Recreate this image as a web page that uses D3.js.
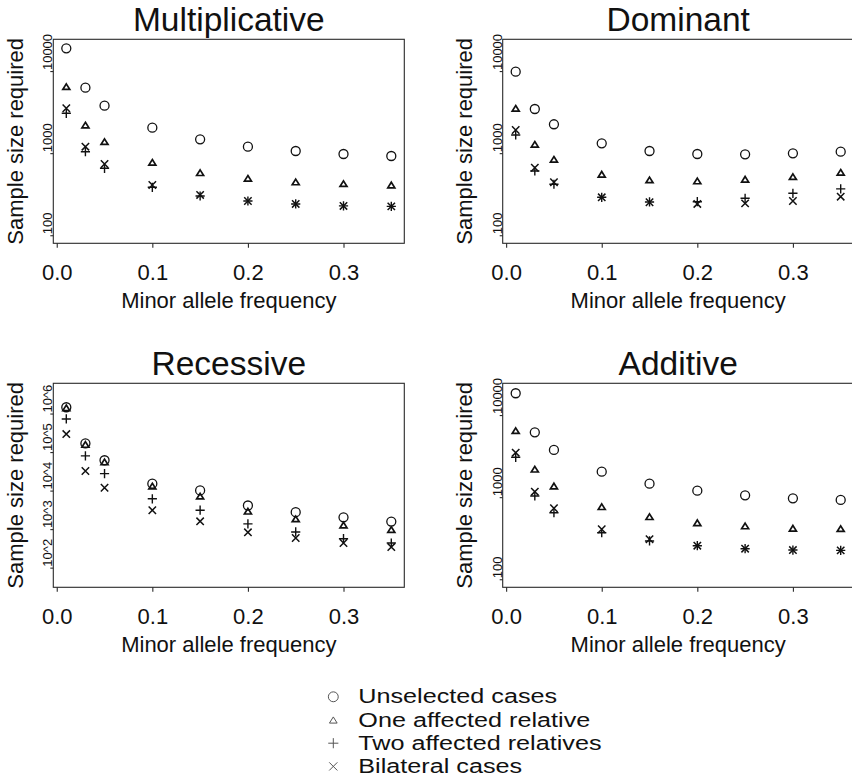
<!DOCTYPE html>
<html>
<head>
<meta charset="utf-8">
<script src="https://cdn.jsdelivr.net/npm/d3@7"></script>
<style>
  html, body { margin: 0; padding: 0; background: #fff; }
  svg { display: block; font-family: "Liberation Sans", Arial, Helvetica, sans-serif; }
</style>
</head>
<body>
<svg id="chart" width="852" height="783"></svg>
<script>
// ---------------- DATA ----------------
const mafs = [0.01, 0.03, 0.05, 0.1, 0.15, 0.2, 0.25, 0.3, 0.35];
const seriesNames = ["Unselected cases", "One affected relative", "Two affected relatives", "Bilateral cases"];
const panelTitles = ["Multiplicative", "Dominant", "Recessive", "Additive"];

const multUnselected = [19200, 6370, 3840, 2070, 1496, 1217, 1077, 990, 936];
const multOne        = [6550, 2230, 1400, 785, 586, 501, 452, 431, 415];
const multTwo        = [3100, 1057, 663, 389, 305, 265, 244, 231, 228];
const multBilateral  = [3570, 1217, 748, 415, 314, 265, 244, 231, 228];

const domUnselected  = [9980, 3500, 2280, 1337, 1077, 990, 982, 1009, 1057];
const domOne         = [3570, 1300, 853, 561, 479, 465, 488, 525, 593];
const domTwo         = [1687, 615, 424, 294, 258, 260, 286, 329, 372];
const domBilateral   = [1940, 674, 448, 294, 256, 244, 248, 265, 299];

const recUnselected  = [1500000, 172600, 63200, 15600, 10400, 4230, 2830, 2090, 1620];
const recOne         = [1450000, 162500, 57100, 13500, 7400, 3010, 1900, 1320, 1000];
const recTwo         = [745000, 82000, 28400, 6320, 3190, 1410, 870, 582, 449];
const recBilateral   = [302000, 33300, 12200, 3190, 1640, 850, 607, 449, 353];

const addUnselected  = [18700, 6250, 3810, 2070, 1479, 1216, 1069, 982, 938];
const addOne         = [6550, 2220, 1387, 776, 586, 495, 452, 424, 419];
const addTwo         = [3100, 1047, 656, 374, 297, 260, 239, 230, 228];
const addBilateral   = [3530, 1183, 742, 412, 311, 260, 239, 230, 228];

const xTicks = [0, 0.1, 0.2, 0.3];
const xTickLabels = ["0.0", "0.1", "0.2", "0.3"];
const yTicksStd = [100, 1000, 10000];
const yTickLabelsStd = ["100", "1000", "10000"];
const yTicksRec = [1e2, 1e3, 1e4, 1e5, 1e6];
const yTickLabelsRec = ["10^2", "10^3", "10^4", "10^5", "10^6"];
const yLimStd = [100, 20000];
const yLimRec = [50, 4e6];

// ---------------- LAYOUT ----------------
const svg = d3.select("#chart");
const W = 351, H = 204;
const panels = [
  {title: panelTitles[0], x0: 53.3, y0: 39.3, series: [multUnselected, multOne, multTwo, multBilateral], ticks: yTicksStd, labels: yTickLabelsStd, lim: yLimStd, fs: 13},
  {title: panelTitles[1], x0: 502.7, y0: 39.3, series: [domUnselected, domOne, domTwo, domBilateral], ticks: yTicksStd, labels: yTickLabelsStd, lim: yLimStd, fs: 13},
  {title: panelTitles[2], x0: 53.3, y0: 383.3, series: [recUnselected, recOne, recTwo, recBilateral], ticks: yTicksRec, labels: yTickLabelsRec, lim: yLimRec, fs: 13},
  {title: panelTitles[3], x0: 502.7, y0: 383.3, series: [addUnselected, addOne, addTwo, addBilateral], ticks: yTicksStd, labels: yTickLabelsStd, lim: yLimStd, fs: 13}
];

const ink = "#111";
const lineCol = "#2a2a2a";

// marker path generators (centered at 0,0)
function markerPath(k, s) {
  s = s || 1;
  if (k === 0) { const r = 4.5 * s; return `M${r},0A${r},${r} 0 1,1 ${-r},0A${r},${r} 0 1,1 ${r},0Z`; }
  if (k === 1) { const w = 3.5 * s, h = 2.8 * s; return `M0,${-h}L${w},${h}L${-w},${h}Z`; }
  if (k === 2) { const a = 4.6 * s; return `M${-a},0L${a},0M0,${-a}L0,${a}`; }
  const b = 3.7 * s; return `M${-b},${-b}L${b},${b}M${-b},${b}L${b},${-b}`;
}
const markerStroke = [1.3, 1.7, 1.4, 1.5];

// R-like 4% axis extension
function extend(lo, hi) { const d = (hi - lo) * 0.04; return [lo - d, hi + d]; }
const xDom = extend(d3.min(mafs), d3.max(mafs));

panels.forEach(p => {
  const g = svg.append("g");
  const x = d3.scaleLinear().domain(xDom).range([p.x0, p.x0 + W]);
  const ld = extend(Math.log10(p.lim[0]), Math.log10(p.lim[1]));
  const y = d3.scaleLog().domain([Math.pow(10, ld[0]), Math.pow(10, ld[1])]).range([p.y0 + H, p.y0]);

  // box
  g.append("rect").attr("x", p.x0).attr("y", p.y0).attr("width", W).attr("height", H)
    .attr("fill", "none").attr("stroke", lineCol).attr("stroke-width", 1.1);

  // x axis via d3 axis
  const xa = d3.axisBottom(x).tickValues(xTicks).tickFormat((d, i) => xTickLabels[i])
    .tickSizeInner(4.5).tickSizeOuter(0).tickPadding(14);
  const xg = g.append("g").attr("transform", `translate(0,${p.y0 + H})`).call(xa);
  xg.select(".domain").remove();
  xg.selectAll(".tick line").attr("stroke", lineCol).attr("stroke-width", 1.1);
  xg.selectAll(".tick text").attr("fill", ink).attr("font-size", 22)
    .attr("font-family", "Liberation Sans, Arial, sans-serif")
    .attr("dy", null).attr("y", 36.7);

  // y ticks
  const yg = g.append("g");
  p.ticks.forEach((t, i) => {
    const ty = y(t);
    yg.append("line").attr("x1", p.x0 - 3).attr("x2", p.x0).attr("y1", ty).attr("y2", ty)
      .attr("stroke", lineCol).attr("stroke-width", 1.1);
    yg.append("text").attr("transform", `translate(${p.x0 - 0.9},${ty - 1.5}) rotate(-90)`)
      .attr("text-anchor", "start").attr("font-size", p.fs).attr("fill", ink).text(p.labels[i]);
  });

  // titles
  g.append("text").attr("x", p.x0 + W / 2).attr("y", p.y0 - 8.6).attr("text-anchor", "middle")
    .attr("font-size", 33.5).attr("fill", ink).text(p.title);
  g.append("text").attr("x", p.x0 + W / 2).attr("y", p.y0 + H + 65).attr("text-anchor", "middle")
    .attr("font-size", 22).attr("fill", ink).text("Minor allele frequency");
  g.append("text").attr("transform", `translate(${p.x0 - 30.8},${p.y0 + H / 2}) rotate(-90)`)
    .attr("text-anchor", "middle").attr("font-size", 22).attr("fill", ink).text("Sample size required");

  // points
  p.series.forEach((vals, k) => {
    g.append("g").selectAll("path").data(vals).join("path")
      .attr("transform", (v, i) => `translate(${x(mafs[i])},${y(v)})`)
      .attr("d", markerPath(k))
      .attr("fill", "none").attr("stroke", ink).attr("stroke-width", markerStroke[k]);
  });
});

// ---------------- LEGEND ----------------
const leg = svg.append("g");
const legY0 = 703.3, legDy = 23.2;
seriesNames.forEach((name, k) => {
  const by = legY0 + k * legDy;
  leg.append("path").attr("transform", `translate(333.3,${by - 6.5})`)
    .attr("d", markerPath(k, 1.1)).attr("fill", "none").attr("stroke", "#555").attr("stroke-width", 1);
  leg.append("text").attr("transform", `translate(358.3,${by}) scale(1.2,1)`)
    .attr("font-size", 21).attr("fill", ink).text(name);
});
</script>
</body>
</html>
